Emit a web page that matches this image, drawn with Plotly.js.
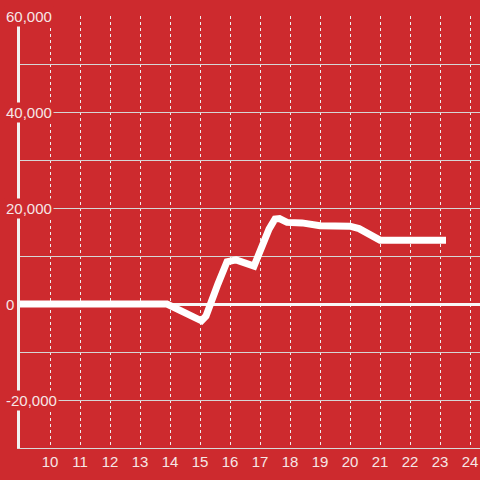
<!DOCTYPE html>
<html>
<head>
<meta charset="utf-8">
<script src="https://cdn.plot.ly/plotly-3.0.1.min.js"></script>
<style>html,body{margin:0;padding:0;background:#cd2a2e;}#chart{width:480px;height:480px;}</style>
</head>
<body>
<div id="chart"></div>
<script>
const hours = [9, 13.9, 15.05, 15.2, 15.6, 15.9, 16.2, 16.8, 17.3, 17.5, 17.65, 17.9, 18.4, 19, 20, 20.3, 21, 23.2];
const values = [0, 0, -3500, -2500, 4200, 8800, 9200, 7900, 15600, 17700, 17800, 17000, 16900, 16300, 16200, 15700, 13300, 13300];
const yTickVals = [-20000, 0, 20000, 40000, 60000];
const yTickText = ['-20,000', '0', '20,000', '40,000', '60,000'];
const xTickVals = [10, 11, 12, 13, 14, 15, 16, 17, 18, 19, 20, 21, 22, 23, 24];

const bg = '#cd2a2e';
const txt = '#f6e6e6';

const annotations = yTickVals.map((v, i) => ({
  xref: 'paper', yref: 'y', x: 0, y: v,
  xanchor: 'left', yanchor: 'middle', xshift: -16,
  text: yTickText[i], showarrow: false,
  bgcolor: bg, borderpad: 1,
  font: {family: 'Liberation Sans, Arial, sans-serif', size: 15, color: txt}
}));

const trace = {
  x: hours, y: values, type: 'scatter', mode: 'lines',
  line: {color: '#ffffff', width: 7},
  hoverinfo: 'skip'
};

const layout = {
  width: 480, height: 480,
  margin: {l: 20, r: 0, t: 16, b: 32},
  paper_bgcolor: bg, plot_bgcolor: bg,
  showlegend: false,
  xaxis: {
    range: [9, 24.333], tickmode: 'array', tickvals: xTickVals,
    showgrid: true, gridcolor: '#eeeeee', gridwidth: 1, griddash: 'dot',
    zeroline: false, showline: true, linecolor: '#d9d9d9', linewidth: 1,
    ticks: '', tickfont: {family: 'Liberation Sans, Arial, sans-serif', size: 15, color: txt}
  },
  yaxis: {
    range: [-30000, 60000], dtick: 10000, tick0: 0,
    showgrid: true, gridcolor: '#d6d6d6', gridwidth: 1,
    zeroline: true, zerolinecolor: '#f8f8f8', zerolinewidth: 3,
    showline: true, linecolor: '#f2f2f2', linewidth: 3,
    showticklabels: false, ticks: ''
  },
  annotations: annotations
};

Plotly.newPlot('chart', [trace], layout, {staticPlot: true, displayModeBar: false});
</script>
</body>
</html>
